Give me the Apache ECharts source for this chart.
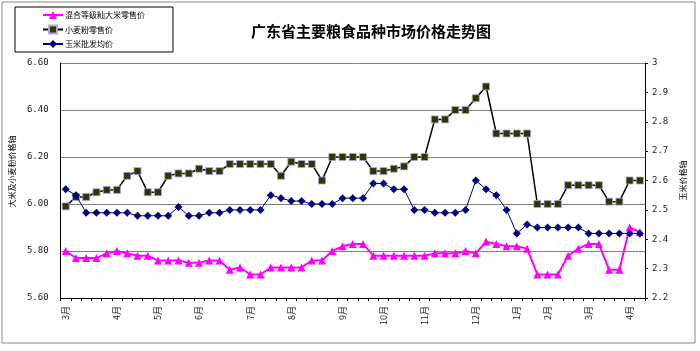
<!DOCTYPE html>
<html>
<head>
<meta charset="utf-8">
<title>广东省主要粮食品种市场价格走势图</title>
<script src="https://cdn.jsdelivr.net/npm/echarts@6/dist/echarts.min.js"></script>
<style>
    html, body { margin: 0; padding: 0; background: #fff; }
    #chart { width: 700px; height: 351px; }
</style>
</head>
<body>
<div id="chart"></div>
<script>
// 周度数据，每月第一周标出月份
const weeks = [
    '3月', '', '', '', '', '4月', '', '', '', '5月', '', '', '', '6月', '', '', '', '',
    '7月', '', '', '', '8月', '', '', '', '', '9月', '', '', '', '10月', '', '', '',
    '11月', '', '', '', '', '12月', '', '', '', '1月', '', '', '2月', '', '', '',
    '3月', '', '', '', '4月', ''
];

// 混合等级籼大米零售价（左轴）
const ricePrice = [
    5.80, 5.77, 5.77, 5.77, 5.79, 5.80, 5.79, 5.78, 5.78, 5.76, 5.76, 5.76, 5.75, 5.75,
    5.76, 5.76, 5.72, 5.73, 5.70, 5.70, 5.73, 5.73, 5.73, 5.73, 5.76, 5.76, 5.80, 5.82,
    5.83, 5.83, 5.78, 5.78, 5.78, 5.78, 5.78, 5.78, 5.79, 5.79, 5.79, 5.80, 5.79, 5.84,
    5.83, 5.82, 5.82, 5.81, 5.70, 5.70, 5.70, 5.78, 5.81, 5.83, 5.83, 5.72, 5.72, 5.90,
    5.88
];

// 小麦粉零售价（左轴）
const flourPrice = [
    5.99, 6.03, 6.03, 6.05, 6.06, 6.06, 6.12, 6.14, 6.05, 6.05, 6.12, 6.13, 6.13, 6.15,
    6.14, 6.14, 6.17, 6.17, 6.17, 6.17, 6.17, 6.12, 6.18, 6.17, 6.17, 6.10, 6.20, 6.20,
    6.20, 6.20, 6.14, 6.14, 6.15, 6.16, 6.20, 6.20, 6.36, 6.36, 6.40, 6.40, 6.45, 6.50,
    6.30, 6.30, 6.30, 6.30, 6.00, 6.00, 6.00, 6.08, 6.08, 6.08, 6.08, 6.01, 6.01, 6.10,
    6.10
];

// 玉米批发均价（右轴）
const cornPrice = [
    2.57, 2.55, 2.49, 2.49, 2.49, 2.49, 2.49, 2.48, 2.48, 2.48, 2.48, 2.51, 2.48, 2.48,
    2.49, 2.49, 2.50, 2.50, 2.50, 2.50, 2.55, 2.54, 2.53, 2.53, 2.52, 2.52, 2.52, 2.54,
    2.54, 2.54, 2.59, 2.59, 2.57, 2.57, 2.50, 2.50, 2.49, 2.49, 2.49, 2.50, 2.60, 2.57,
    2.55, 2.50, 2.42, 2.45, 2.44, 2.44, 2.44, 2.44, 2.44, 2.42, 2.42, 2.42, 2.42, 2.42,
    2.42
];

const seriesNames = ['混合等级籼大米零售价', '小麦粉零售价', '玉米批发均价'];

const chart = echarts.init(document.getElementById('chart'));

const option = {
    animation: false,
    backgroundColor: '#fff',
    textStyle: { fontFamily: '"Noto Sans CJK SC", sans-serif' },
    title: {
        text: '广东省主要粮食品种市场价格走势图',
        left: 366,
        top: 19,
        textAlign: 'center',
        textStyle: { fontSize: 15, fontWeight: 'bold', color: '#000' }
    },
    legend: {
        orient: 'vertical',
        left: 15,
        top: 7,
        padding: [4, 28, 4, 27],
        itemGap: 5.5,
        itemWidth: 20,
        itemHeight: 10,
        borderColor: '#000',
        borderWidth: 1,
        data: seriesNames,
        textStyle: { fontSize: 8, color: '#000', padding: [0, 0, 0, -3] }
    },
    graphic: [{
        type: 'rect',
        shape: { x: 2, y: 2, width: 693, height: 341 },
        style: { fill: 'none', stroke: '#888', lineWidth: 1 },
        silent: true
    }],
    grid: { left: 51, right: 55, top: 63, bottom: 53 },
    xAxis: {
        type: 'category',
        data: weeks,
        boundaryGap: true,
        axisLine: { lineStyle: { color: '#000', width: 1 } },
        axisTick: { show: true, interval: 0, length: 3, lineStyle: { color: '#000' } },
        axisLabel: {
            interval: 0,
            rotate: 90,
            margin: 8,
            fontSize: 9,
            color: '#222'
        },
        splitLine: { show: false }
    },
    yAxis: [{
        type: 'value',
        min: 5.6,
        max: 6.6,
        interval: 0.2,
        name: '大米及小麦粉价格轴',
        nameLocation: 'middle',
        nameRotate: 90,
        nameGap: 20,
        nameTextStyle: { fontSize: 8, color: '#000', padding: [0, 0, 0, 18] },
        axisLine: { show: true, lineStyle: { color: '#000' } },
        axisTick: { show: false },
        axisLabel: {
            margin: 12,
            fontSize: 9,
            color: '#222',
            fontFamily: '"DejaVu Sans Mono", monospace',
            formatter: v => v.toFixed(2)
        },
        splitLine: { show: true, lineStyle: { color: '#808080', width: 1 } }
    }, {
        type: 'value',
        min: 2.2,
        max: 3,
        interval: 0.1,
        position: 'right',
        name: '玉米价格轴',
        nameLocation: 'middle',
        nameRotate: 90,
        nameGap: 34,
        nameTextStyle: { fontSize: 8, color: '#000' },
        axisLine: { show: true, lineStyle: { color: '#000' } },
        axisTick: { show: true, length: 3, inside: false, lineStyle: { color: '#000' } },
        axisLabel: {
            margin: 7,
            fontSize: 9,
            color: '#222',
            fontFamily: '"DejaVu Sans Mono", monospace',
            formatter: v => String(Math.round(v * 10) / 10)
        },
        splitLine: { show: false }
    }],
    series: [{
        name: seriesNames[0],
        type: 'line',
        yAxisIndex: 0,
        data: ricePrice,
        symbol: 'triangle',
        symbolSize: 8,
        itemStyle: { color: '#ff00ff' },
        lineStyle: { color: '#ff00ff', width: 2 },
        z: 3
    }, {
        name: seriesNames[1],
        type: 'line',
        yAxisIndex: 0,
        data: flourPrice,
        symbol: 'rect',
        symbolSize: 7,
        itemStyle: { color: '#333300', borderColor: '#aaaadd', borderWidth: 0.8 },
        lineStyle: { color: '#000', width: 1.5 },
        z: 4
    }, {
        name: seriesNames[2],
        type: 'line',
        yAxisIndex: 1,
        data: cornPrice,
        symbol: 'diamond',
        symbolSize: 8,
        itemStyle: { color: '#000080' },
        lineStyle: { color: '#000080', width: 1 },
        z: 5
    }]
};

chart.setOption(option);
</script>
</body>
</html>
